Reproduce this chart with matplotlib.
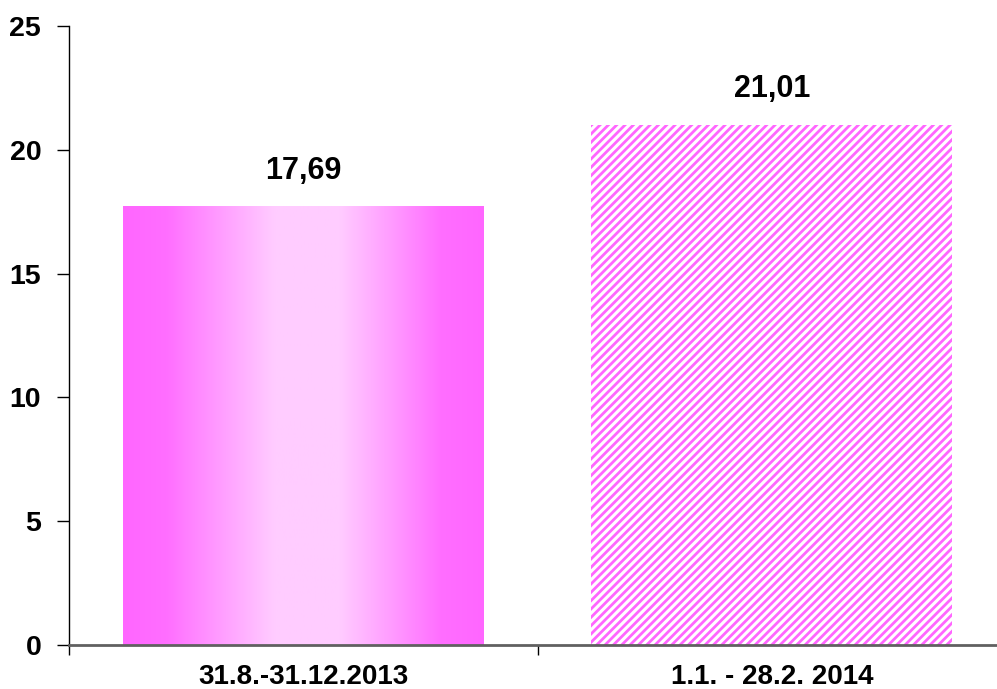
import matplotlib
matplotlib.use("Agg")
import matplotlib.pyplot as plt
import numpy as np
from matplotlib.colors import LinearSegmentedColormap

categories = ["31.8.-31.12.2013", "1.1. - 28.2. 2014"]
values = [17.69, 21.01]
value_labels = ["17,69", "21,01"]
yticks = [0, 5, 10, 15, 20, 25]

plt.rcParams['font.family'] = ['Liberation Sans', 'DejaVu Sans']
plt.rcParams['hatch.linewidth'] = 2.0
plt.rcParams['hatch.color'] = '#FF66FF'

fig = plt.figure(figsize=(9.97, 6.89), dpi=100)
ax = fig.add_axes([69/997, 44/689, (1006 - 69)/997, (645-26)/689])

x = np.arange(len(categories))
bars = ax.bar(x, values, width=0.77, color=['none', 'white'], edgecolor='none', zorder=2)
bars[1].set_hatch('////')
bars[1].set_edgecolor('#FF66FF')
bars[1].set_linewidth(0)

# gradient fill for first bar
cmap = LinearSegmentedColormap.from_list('g', [(0, '#FF66FF'), (0.12, '#FF6EFF'), (0.42, '#FFCCFF'), (0.6, '#FFCCFF'), (0.88, '#FF6EFF'), (1.0, '#FF66FF')])
b0 = bars[0]
grad = np.linspace(0, 1, 256).reshape(1, -1)
ax.imshow(grad, cmap=cmap, aspect='auto', extent=[b0.get_x(), b0.get_x() + b0.get_width(), 0, b0.get_height()], zorder=1)

for xi, v, lab in zip(x, values, value_labels):
    ax.text(xi, v + 0.85, lab, ha='center', va='bottom', fontsize=22, fontweight='bold')

ax.set_xlim(-0.5, 1.5)
ax.set_ylim(0, 25)
ax.set_yticks(yticks)
ax.set_yticklabels([str(t) for t in yticks], fontsize=20.5, fontweight='bold')
ax.set_xticks([-0.5, 0.5, 1.5])
ax.set_xticklabels([])
ax.set_xticks(x, minor=True)
ax.set_xticklabels(categories, minor=True, fontsize=20, fontweight='bold')
ax.tick_params(axis='x', which='minor', length=0, pad=14)
ax.tick_params(axis='x', which='major', length=7, width=1, color='black')
ax.tick_params(axis='y', length=9, width=1, pad=11)

ax.spines['top'].set_visible(False)
ax.spines['right'].set_visible(False)
ax.spines['bottom'].set_color('#606060')
ax.spines['bottom'].set_linewidth(2)
ax.spines['left'].set_linewidth(1)

fig.savefig('out.png', dpi=100)
